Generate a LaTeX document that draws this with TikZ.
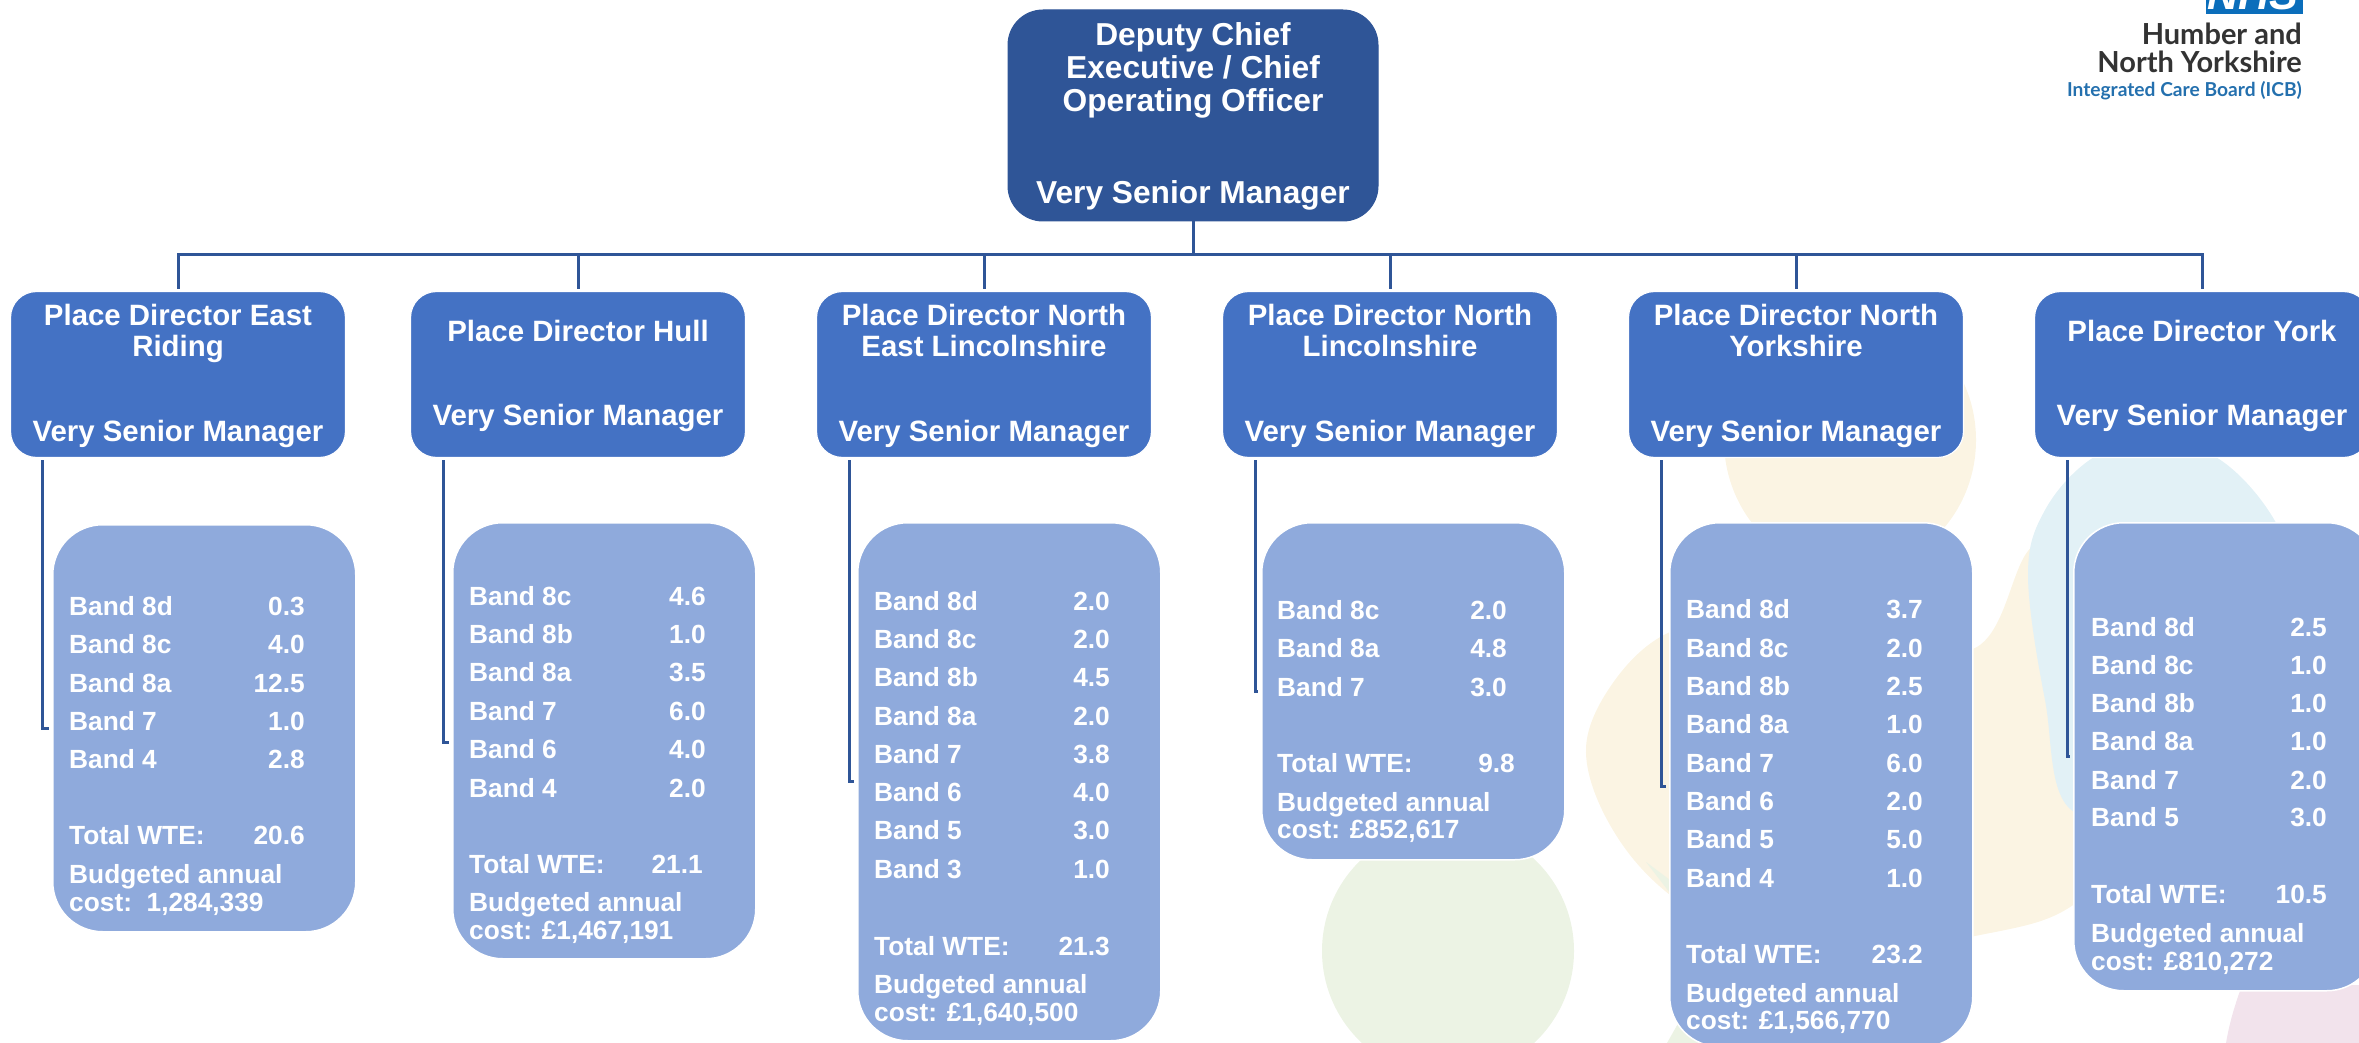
\documentclass[tikz,border=0pt]{standalone}
\usepackage{fontspec}
\setmainfont{Liberation Sans}
\newfontfamily\logofont{Lato}
\definecolor{topblue}{HTML}{2F5597}
\definecolor{placeblue}{HTML}{4472C4}
\definecolor{bandblue}{HTML}{8FAADC}
\definecolor{creambg}{HTML}{FBF4E3}
\definecolor{bluebg}{HTML}{E2F1F6}
\definecolor{greenbg}{HTML}{ECF3E4}
\definecolor{pinkbg}{HTML}{F2E3EC}
\definecolor{nhsblue}{HTML}{0B6EBB}
\definecolor{icbblue}{HTML}{2470AE}
\definecolor{logodark}{HTML}{333333}
\tikzset{
  x=1pt,y=-1pt,
  topbox/.style={draw=topblue,line width=1pt,fill=topblue,rounded corners=35pt,minimum width=370pt,minimum height=211pt,inner sep=0pt},
  placebox/.style={draw=white,line width=1.2pt,fill=placeblue,rounded corners=26pt,minimum width=335pt,minimum height=166pt,inner sep=0pt},
  bandbox/.style={draw=white,line width=1.5pt,fill=bandblue,rounded corners=50pt,minimum width=303pt,inner sep=0pt,anchor=north west},
  conn/.style={draw=topblue,line width=3pt},
  titletxt/.style={text=white,font=\bfseries\fontsize{29.4}{30.5}\selectfont,align=center,inner sep=0pt,anchor=base},
  toptxt/.style={text=white,font=\bfseries\fontsize{31.7}{33}\selectfont,align=center,inner sep=0pt,anchor=base},
  bl/.style={text=white,font=\bfseries\fontsize{26.3}{28}\selectfont,inner sep=0pt,anchor=base west},
  bv/.style={text=white,font=\bfseries\fontsize{26.3}{28}\selectfont,inner sep=0pt,anchor=base east},
}
\newcommand{\budget}[5]{%
  \node[bl] (#1a) at (#2,#3) {Budgeted annual};
  \node[bl] (#1b) at (#2,#4) {cost:#5};
}
\begin{document}
\begin{tikzpicture}
\useasboundingbox (0,0) rectangle (2359,1043);
\clip (0,0) rectangle (2359,1043);
% background shapes
\fill[creambg] (1850,440) ellipse [x radius=126,y radius=132];
\fill[creambg] plot[smooth cycle,tension=0.6] coordinates {(1670,632)(1615,680)(1586,748)(1610,825)(1670,895)(1780,960)(1975,936)(2080,900)(2150,800)(2110,620)(2078,520)(2028,551)(1975,648)(1850,640)(1750,620)};
\fill[greenbg] (1646,862) -- (1670,893) -- (1670,880) -- cycle;
\fill[greenbg] (1667,1043) -- (1680,1020) -- (1700,1043) -- cycle;
\fill[bluebg] plot[smooth cycle,tension=0.6] coordinates {(2091,459)(2150,440)(2219,459)(2275,521)(2300,600)(2200,800)(2074,812)(2045,700)(2028,575)(2045,510)};
\fill[greenbg] (1448,951) circle [radius=126];
\fill[pinkbg] (2226,1043) .. controls (2230,1020) and (2235,1005) .. (2242,985) -- (2359,985) -- (2359,1043) -- cycle;
% logo
\fill[nhsblue] (2206,0) rectangle (2303,14);
\node[text=white,font=\bfseries\itshape\fontsize{43}{43}\selectfont,inner sep=0pt,anchor=base] (nhs) at (2253,10) {NHS};
\node[text=logodark,font=\logofont\bfseries\fontsize{29}{29}\selectfont,inner sep=0pt,anchor=base east] (logoa) at (2302,45) {Humber and};
\node[text=logodark,font=\logofont\bfseries\fontsize{29}{29}\selectfont,inner sep=0pt,anchor=base east] (logob) at (2302,73) {North Yorkshire};
\node[text=icbblue,font=\logofont\bfseries\fontsize{19.2}{20}\selectfont,inner sep=0pt,anchor=base east] (logoc) at (2302,97) {Integrated Care Board (ICB)};
% boxes
\node[topbox] (top) at (1193,115.5) {};
\foreach \n/\c in {p1/178,p2/578,p3/984,p4/1390,p5/1796,p6/2202}
  \node[placebox] (\n) at (\c,374.5) {};
\node[bandbox,minimum height=407pt] (b1) at (52,524) {};
\node[bandbox,minimum height=436pt] (b2) at (452,522) {};
\node[bandbox,minimum height=518pt] (b3) at (857,522) {};
\node[bandbox,minimum height=337pt] (b4) at (1261,522) {};
\node[bandbox,minimum height=524pt] (b5) at (1669,522) {};
\node[bandbox,minimum height=468pt] (b6) at (2073,522) {};
% connectors
\coordinate (bus) at (1193,255);
\draw[conn] (top.south) -- (bus);
\foreach \n in {p1,p2,p3,p4,p5,p6}
  \draw[conn,shorten >=2pt] (bus) -| (\n.north);
\draw[conn,shorten <=2pt,shorten >=3pt] ([xshift=33pt]p1.south west) |- ([yshift=-204pt]b1.north west);
\draw[conn,shorten <=2pt,shorten >=3pt] ([xshift=34pt]p2.south west) |- ([yshift=-220pt]b2.north west);
\draw[conn,shorten <=2pt,shorten >=3pt] ([xshift=34pt]p3.south west) |- ([yshift=-259pt]b3.north west);
\draw[conn,shorten <=2pt,shorten >=3pt] ([xshift=34pt]p4.south west) |- ([yshift=-169pt]b4.north west);
\draw[conn,shorten <=2pt,shorten >=3pt] ([xshift=34pt]p5.south west) |- ([yshift=-264pt]b5.north west);
\draw[conn,shorten <=2pt,shorten >=3pt] ([xshift=34pt]p6.south west) |- ([yshift=-234pt]b6.north west);
% titles
\node[toptxt] (topt) at (1193,111.7) {Deputy Chief\\Executive / Chief\\Operating Officer};
\node[toptxt] (topr) at (1193,204) {Very Senior Manager};
\node[titletxt] (p1t) at (178,356.2) {Place Director East\\Riding};
\node[titletxt] (p2t) at (578,341) {Place Director Hull};
\node[titletxt] (p3t) at (984,356.2) {Place Director North\\East Lincolnshire};
\node[titletxt] (p4t) at (1390,356.2) {Place Director North\\Lincolnshire};
\node[titletxt] (p5t) at (1796,356.2) {Place Director North\\Yorkshire};
\node[titletxt] (p6t) at (2202,341) {Place Director York};
\foreach \n/\c/\y in {p1/178/441,p2/578/425.7,p3/984/441,p4/1390/441,p5/1796/441,p6/2202/425.7}
  \node[titletxt] (\n r) at (\c,\y) {Very Senior Manager};
% band rows
\foreach \l/\v/\y [count=\i] in {8d/0.3/615,8c/4.0/653,8a/12.5/692,7/1.0/730,4/2.8/768}{
  \node[bl] (b1l\i) at (69,\y) {Band \l};
  \node[bv] (b1v\i) at (305,\y) {\v};
}
\node[bl] (b1tl) at (69,844) {Total WTE:};
\node[bv] (b1tv) at (305,844) {20.6};
\budget{b1c}{69}{883}{911}{\ \ 1,284,339}
\foreach \l/\v/\y [count=\i] in {8c/4.6/605,8b/1.0/643,8a/3.5/681,7/6.0/720,6/4.0/758,4/2.0/797}{
  \node[bl] (b2l\i) at (469,\y) {Band \l};
  \node[bv] (b2v\i) at (706,\y) {\v};
}
\node[bl] (b2tl) at (469,873) {Total WTE:};
\node[bv] (b2tv) at (703,873) {21.1};
\budget{b2c}{469}{911}{939}{ £1,467,191}
\foreach \l/\v/\y [count=\i] in {8d/2.0/610,8c/2.0/648,8b/4.5/686,8a/2.0/725,7/3.8/763,6/4.0/801,5/3.0/839,3/1.0/878}{
  \node[bl] (b3l\i) at (874,\y) {Band \l};
  \node[bv] (b3v\i) at (1110,\y) {\v};
}
\node[bl] (b3tl) at (874,955) {Total WTE:};
\node[bv] (b3tv) at (1110,955) {21.3};
\budget{b3c}{874}{993}{1021}{ £1,640,500}
\foreach \l/\v/\y [count=\i] in {8c/2.0/619,8a/4.8/657,7/3.0/696}{
  \node[bl] (b4l\i) at (1277,\y) {Band \l};
  \node[bv] (b4v\i) at (1507,\y) {\v};
}
\node[bl] (b4tl) at (1277,772) {Total WTE:};
\node[bv] (b4tv) at (1515,772) {9.8};
\budget{b4c}{1277}{811}{838}{ £852,617}
\foreach \l/\v/\y [count=\i] in {8d/3.7/618,8c/2.0/657,8b/2.5/695,8a/1.0/733,7/6.0/772,6/2.0/810,5/5.0/848,4/1.0/887}{
  \node[bl] (b5l\i) at (1686,\y) {Band \l};
  \node[bv] (b5v\i) at (1923,\y) {\v};
}
\node[bl] (b5tl) at (1686,963) {Total WTE:};
\node[bv] (b5tv) at (1923,963) {23.2};
\budget{b5c}{1686}{1002}{1029}{ £1,566,770}
\foreach \l/\v/\y [count=\i] in {8d/2.5/636,8c/1.0/674,8b/1.0/712,8a/1.0/750,7/2.0/789,5/3.0/826}{
  \node[bl] (b6l\i) at (2091,\y) {Band \l};
  \node[bv] (b6v\i) at (2327,\y) {\v};
}
\node[bl] (b6tl) at (2091,903) {Total WTE:};
\node[bv] (b6tv) at (2327,903) {10.5};
\budget{b6c}{2091}{942}{970}{ £810,272}
\end{tikzpicture}
\end{document}
